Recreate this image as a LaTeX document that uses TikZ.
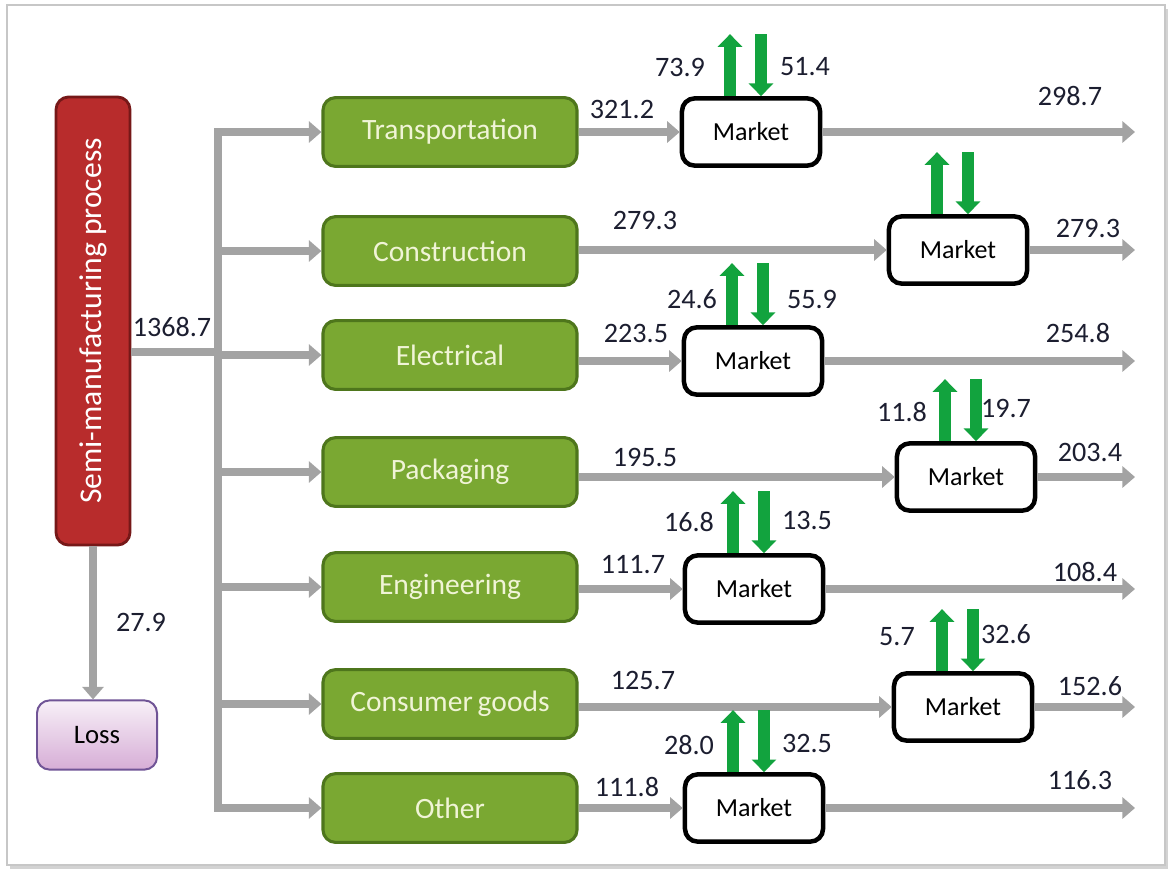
\documentclass[tikz,border=0pt]{standalone}
\usepackage{fontspec}
\setmainfont{Carlito}
\usepackage{xcolor}
\usepackage{tikz}
\usetikzlibrary{arrows.meta,positioning,calc,shadows}

\definecolor{flowgray}{RGB}{163,163,163}
\definecolor{tradegreen}{RGB}{18,163,62}
\definecolor{sectorfill}{RGB}{122,168,50}
\definecolor{sectorline}{RGB}{78,118,28}
\definecolor{sectortext}{RGB}{240,244,214}
\definecolor{procfill}{RGB}{184,44,44}
\definecolor{procline}{RGB}{118,24,24}
\definecolor{lossline}{RGB}{112,84,150}
\definecolor{numtext}{RGB}{28,30,48}

\begin{document}
\begin{tikzpicture}[x=0.025cm,y=-0.025cm,
  flow/.style={draw=flowgray,line width=6.3pt,-{Triangle[length=9pt,width=15pt]}},
  trade/.style={draw=tradegreen,line width=8pt,-{Triangle[length=9pt,width=17pt]}},
  sector/.style={draw=sectorline,line width=2.2pt,fill=sectorfill,rounded corners=9pt,
    minimum width=6.35cm,minimum height=1.72cm,text=sectortext,font=\fontsize{21}{24}\selectfont},
  market/.style={draw=black,line width=3.2pt,fill=white,rounded corners=9pt,
    minimum width=3.45cm,minimum height=1.68cm,font=\fontsize{18.5}{22}\selectfont},
  num/.style={text=numtext,font=\fontsize{20}{24}\selectfont}]
\useasboundingbox (0,0) rectangle (1174,870);
\draw[draw=black!22,line width=1.4pt,fill=white,
  drop shadow={opacity=0.35,shadow xshift=2pt,shadow yshift=-3pt}] (7,5) rectangle (1165,865);

% source and loss
\node[draw=procline,line width=2pt,fill=procfill,rounded corners=9pt,
  minimum width=1.85cm,minimum height=11.2cm] (proc) at (93,321) {};
\node[rotate=90,text=white,font=\fontsize{22.5}{26}\selectfont] at (proc.center) {Semi-manufacturing process};
\node[draw=lossline,line width=1.4pt,top color=violet!6,bottom color=violet!32!white,
  rounded corners=9pt,minimum width=3cm,minimum height=1.73cm,
  font=\fontsize{19}{22}\selectfont] (loss) at (97,735) {Loss};
\draw[flow] (proc.south) -- (proc.south |- loss.north) node[num,midway,right=0.35cm] {27.9};

% split into the sectors
\coordinate (split) at (218,352);
\coordinate (ttop) at (218,128);
\coordinate (tbot) at (218,812);
\draw[flowgray,line width=6.3pt] (proc.east |- split) -- (split);
\draw[flowgray,line width=6.3pt] (ttop) -- (tbot);
\node[num] at (172,327) {1368.7};

\foreach \n/\txt/\sy/\mx/\my/\vin/\inx/\iny/\vout/\outx/\outy in {
    1/Transportation/132/751/132/321.2/622/109/298.7/1070/96,
    2/Construction/251/958/250/279.3/645/220/279.3/1088/228,
    3/Electrical/355/753/361/223.5/636/333/254.8/1078/333,
    4/Packaging/472/966/477/195.5/645/457/203.4/1090/452,
    5/Engineering/587/754/589/111.7/633/565/108.4/1085/572,
    6/{Consumer\,goods}/704/963/707/125.7/643/680/152.6/1090/686,
    7/Other/808/754/808/111.8/627/787/116.3/1080/780} {
  \node[sector] (s\n) at (450,\sy) {\txt};
  \node[market] (m\n) at (\mx,\my) {Market};
  \coordinate (o\n) at (1135,\my);
  \draw[flow] (216,\sy) -- (s\n.west);
  \draw[flow] (s\n.east |- m\n.west) -- (m\n.west);
  \draw[flow] (m\n.east) -- (o\n);
  \node[num] at (\inx,\iny) {\vin};
  \node[num] at (\outx,\outy) {\vout};
  % exports up, imports down
  \draw[trade] ($(m\n.north)+(-21,0)$) -- ($(m\n.north)+(-21,-62)$);
  \draw[trade] ($(m\n.north)+(10,-62)$) -- ($(m\n.north)+(10,0)$);
}

% trade volumes
\foreach \x/\y/\v in {680/67/73.9, 805/67/51.4, 692/299/24.6, 812/299/55.9,
    902/412/11.8, 1006/408/19.7, 689/522/16.8, 807/520/13.5,
    897/637/5.7, 1006/634/32.6, 689/745/28.0, 807/743/32.5} {
  \node[num] at (\x,\y) {\v};
}
\end{tikzpicture}
\end{document}
